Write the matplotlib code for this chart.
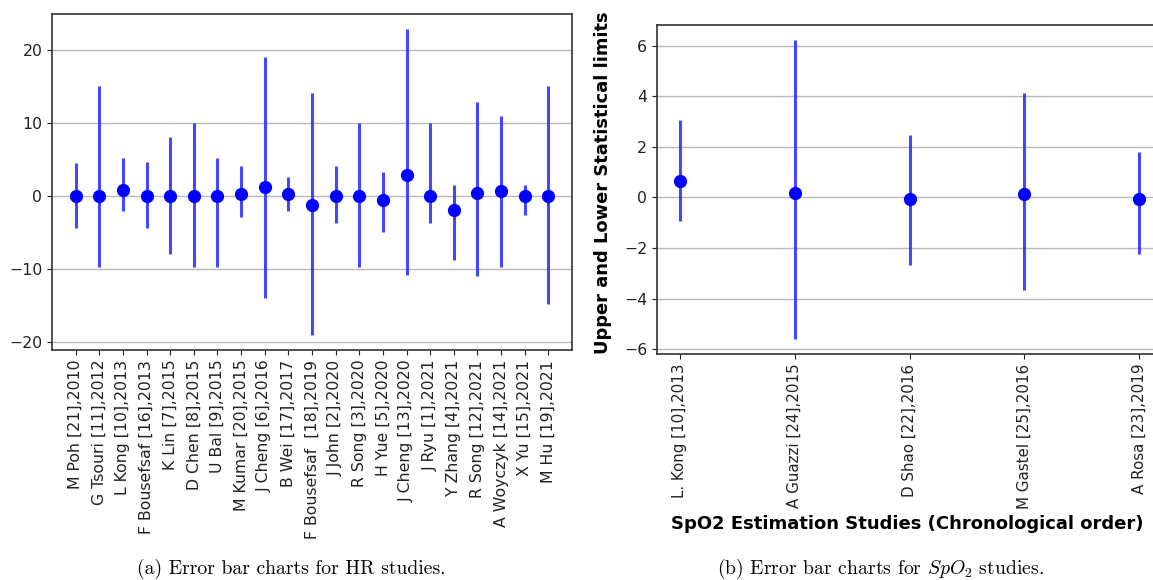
import matplotlib
matplotlib.use("Agg")
import matplotlib.pyplot as plt
import numpy as np

# HR studies
hr_labels = ["M Poh [21],2010", "G Tsouri [11],2012", "L Kong [10],2013",
             "F Bousefsaf [16],2013", "K Lin [7],2015", "D Chen [8],2015",
             "U Bal [9],2015", "M Kumar [20],2015", "J Cheng [6],2016",
             "B Wei [17],2017", "F Bousefsaf  [18],2019", "J John [2],2020",
             "R Song [3],2020", "H Yue [5],2020", "J Cheng [13],2020",
             "J Ryu [1],2021", "Y Zhang [4],2021", "R Song [12],2021",
             "A Woyczyk [14],2021", "X Yu [15],2021", "M Hu [19],2021"]
hr_mean = [0.0, 0.0, 0.8, 0.0, 0.0, 0.0, 0.0, 0.2, 1.2, 0.2, -1.3, 0.0,
           0.0, -0.5, 2.9, 0.0, -2.0, 0.4, 0.6, 0.0, 0.0]
hr_upper = [4.5, 15.0, 5.2, 4.7, 8.1, 10.0, 5.2, 4.1, 19.0, 2.6, 14.1, 4.1,
            10.0, 3.25, 22.8, 10.0, 1.55, 12.8, 10.9, 1.55, 15.0]
hr_lower = [-4.4, -9.8, -2.1, -4.4, -8.0, -9.8, -9.8, -2.9, -14.0, -2.1, -19.0,
            -3.75, -9.8, -5.0, -10.8, -3.75, -8.8, -11.0, -9.8, -2.65, -14.8]

# SpO2 studies
sp_labels = ["L. Kong [10],2013", "A Guazzi [24],2015", "D Shao [22],2016",
             "M Gastel [25],2016", "A Rosa [23],2019"]
sp_mean = [0.66, 0.19, -0.07, 0.13, -0.07]
sp_upper = [3.05, 6.22, 2.45, 4.12, 1.8]
sp_lower = [-0.93, -5.6, -2.66, -3.68, -2.22]

plt.rcParams['mathtext.fontset'] = 'cm'

fig = plt.figure(figsize=(11.53, 5.80), dpi=100)

ax1 = fig.add_axes([52/1153, 1-350/580, (572-52)/1153, (350-14)/580])
ax2 = fig.add_axes([657/1153, 1-354/580, (1162-657)/1153, (354-25)/580])


def draw(ax, labels, mean, upper, lower, fs):
    x = np.arange(len(labels))
    m = np.array(mean)
    yerr = [m - np.array(lower), np.array(upper) - m]
    ax.errorbar(x, m, yerr=yerr, fmt='o', color='blue', markersize=8.5,
                ecolor=(0.15, 0.15, 1.0, 0.85), elinewidth=2.2, capsize=0,
                zorder=3)
    ax.set_xticks(x)
    ax.set_xticklabels(labels, rotation=90, fontsize=fs)
    ax.tick_params(axis='y', labelsize=11.3, colors='#222222')
    ax.tick_params(axis='x', colors='#222222')
    ax.yaxis.grid(True, color='#b8b8b8', linewidth=1.0)
    ax.set_axisbelow(True)
    for s in ax.spines.values():
        s.set_color('#333333')
        s.set_linewidth(1.2)


draw(ax1, hr_labels, hr_mean, hr_upper, hr_lower, 11.3)
draw(ax2, sp_labels, sp_mean, sp_upper, sp_lower, 10.9)
ax2.set_yticks([-6, -4, -2, 0, 2, 4, 6])
ax2.set_ylabel("Upper and Lower Statistical limits", fontsize=12.9,
               fontweight='bold')
ax2.set_xlabel("SpO2 Estimation Studies (Chronological order)", fontsize=13,
               fontweight='bold')
ax2.xaxis.set_label_coords((907 - 657) / (1162 - 657), -(524 - 354) / 329)
ax2.xaxis.label.set_va('center')
ax2.yaxis.set_label_coords(-(657 - 603) / (1162 - 657), 0.52)
ax2.yaxis.label.set_va('center')

fig.text(291/1153, 1-569/580, "(a) Error bar charts for HR studies.",
         family='cmr10', fontsize=14.2, ha='center', va='center')
fig.text(880/1153, 1-569/580, r"(b) Error bar charts for $SpO_2$ studies.",
         family='cmr10', fontsize=14.2, ha='center', va='center')

fig.savefig("out.png", dpi=100)
